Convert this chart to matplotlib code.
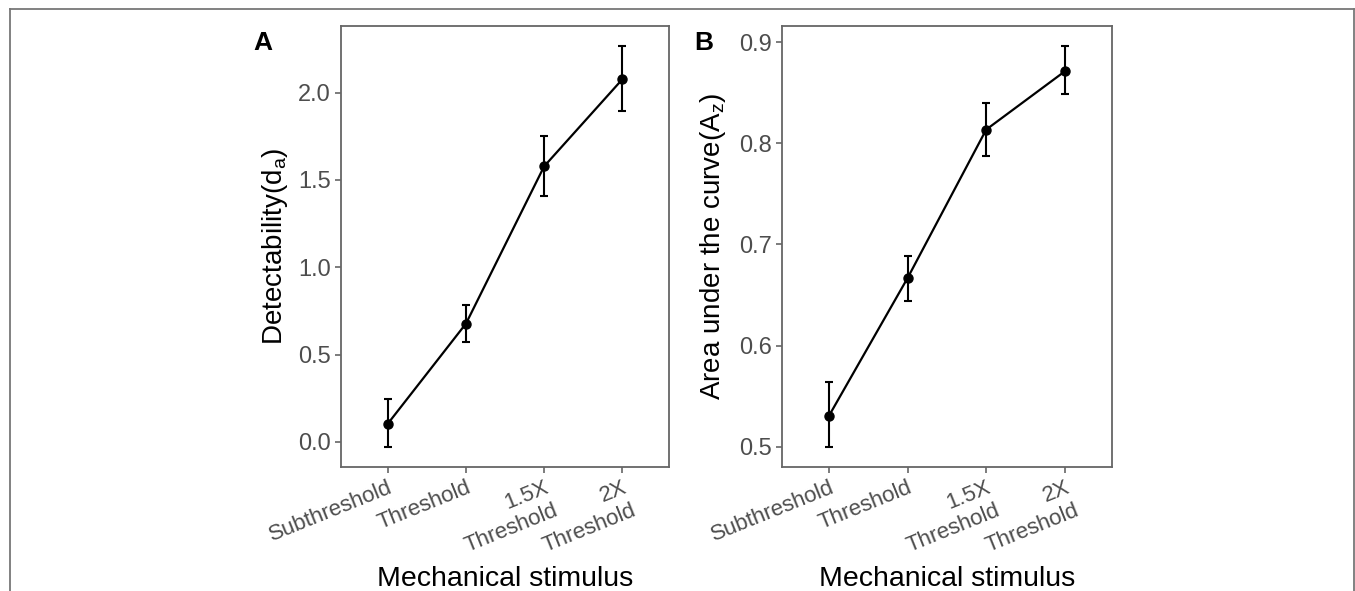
import numpy as np
import matplotlib.pyplot as plt
from matplotlib.lines import Line2D

plt.rcParams['font.family'] = ['Liberation Sans', 'DejaVu Sans']
plt.rcParams['mathtext.fontset'] = 'custom'
plt.rcParams['mathtext.rm'] = 'Liberation Sans'
plt.rcParams['mathtext.it'] = 'Liberation Sans'

# datos
categorias = ["Subthreshold", "Threshold", "1.5X\nThreshold", "2X\nThreshold"]

da_media = [0.105, 0.678, 1.578, 2.076]
da_inf = [-0.029, 0.572, 1.406, 1.893]
da_sup = [0.243, 0.782, 1.750, 2.267]

az_media = [0.531, 0.667, 0.8135, 0.871]
az_inf = [0.500, 0.644, 0.787, 0.849]
az_sup = [0.564, 0.689, 0.840, 0.896]

fig = plt.figure(figsize=(13.55, 5.91), dpi=100)

gris_borde = "#666666"
gris_texto = "#4D4D4D"


def panel(ax, media, inf, sup, yticks, ylabel, ylab_x):
    xs = np.arange(len(categorias))
    media = np.array(media)
    err = [media - np.array(inf), np.array(sup) - media]
    ax.plot(xs, media, color="black", linewidth=1.6, zorder=2)
    ax.errorbar(xs, media, yerr=err, fmt="o", color="black", markersize=6.5,
                elinewidth=1.5, capsize=3.2, capthick=1.5, zorder=3)
    rango = max(sup) - min(inf)
    ax.set_ylim(min(inf) - 0.05 * rango, max(sup) + 0.05 * rango)
    ax.set_xlim(-0.6, len(categorias) - 0.4)
    ax.set_yticks(yticks)
    ax.set_yticklabels([f"{v:.1f}" for v in yticks], fontsize=17)
    ax.set_xticks(xs)
    ax.set_xticklabels(categorias, rotation=22, ha="right", va="top",
                       rotation_mode="anchor", multialignment="right",
                       fontsize=16)
    ax.tick_params(colors=gris_borde, labelcolor=gris_texto,
                   length=4, width=1.2)
    for s in ax.spines.values():
        s.set_color(gris_borde)
        s.set_linewidth(1.3)
    ax.set_xlabel("Mechanical stimulus", fontsize=20.5, va="top")
    ax.xaxis.set_label_coords(0.5, -0.225)
    ax.set_ylabel(ylabel, fontsize=20)
    ax.yaxis.set_label_coords(ylab_x, 0.5)
    return ax


axA = fig.add_axes([0.2517, 0.2098, 0.2421, 0.7462])
panel(axA, da_media, da_inf, da_sup, [0.0, 0.5, 1.0, 1.5, 2.0],
      r"Detectability(d$_\mathrm{a}$)", -0.155)

axB = fig.add_axes([0.5771, 0.2098, 0.2435, 0.7462])
panel(axB, az_media, az_inf, az_sup, [0.5, 0.6, 0.7, 0.8, 0.9],
      r"Area under the curve(A$_\mathrm{z}$)", -0.164)

fig.text(253 / 1355, 1 - 50 / 591, "A", fontsize=19, fontweight="bold")
fig.text(694 / 1355, 1 - 50 / 591, "B", fontsize=19, fontweight="bold")

# marco exterior
x0, x1, y1 = 9.5 / 1355, 1353.5 / 1355, 1 - 8.5 / 591
for xd, yd in [([x0, x0], [-0.1, y1]), ([x0, x1], [y1, y1]), ([x1, x1], [y1, -0.1])]:
    fig.add_artist(Line2D(xd, yd, color="#777777", linewidth=1.3,
                          transform=fig.transFigure))

fig.savefig("out.png", dpi=100)
